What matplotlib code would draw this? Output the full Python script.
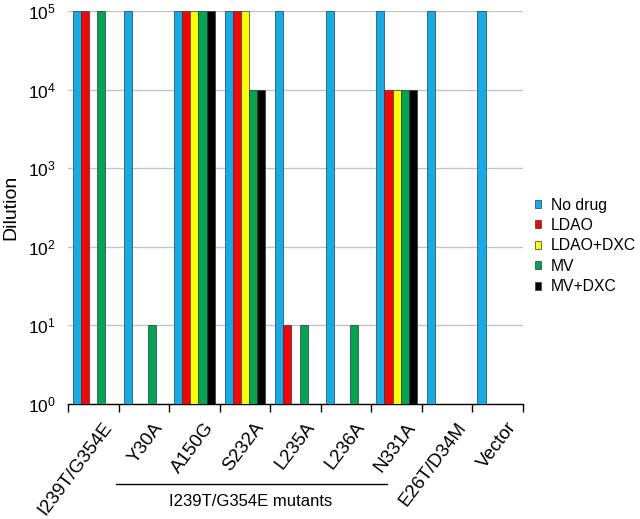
import matplotlib
matplotlib.use("Agg")
import matplotlib.pyplot as plt
import matplotlib.transforms as mtransforms
from matplotlib.patches import Patch
import numpy as np

plt.rcParams['font.family'] = ['Liberation Sans', 'DejaVu Sans']
plt.rcParams['mathtext.fontset'] = 'custom'
plt.rcParams['mathtext.rm'] = 'Liberation Sans'

# data (nan = no growth / no bar)
strains = ['I239T/G354E', 'Y30A', 'A150G', 'S232A', 'L235A', 'L236A',
           'N331A', 'E26T/D34M', 'Vector']
series = ['No drug', 'LDAO', 'LDAO+DXC', 'MV', 'MV+DXC']
no_drug = [1e5, 1e5, 1e5, 1e5, 1e5, 1e5, 1e5, 1e5, 1e5]
ldao = [1e5, np.nan, 1e5, 1e5, 10, np.nan, 1e4, np.nan, np.nan]
ldao_dxc = [np.nan, np.nan, 1e5, 1e5, np.nan, np.nan, 1e4, np.nan, np.nan]
mv = [1e5, 10, 1e5, 1e4, 10, 10, 1e4, np.nan, np.nan]
mv_dxc = [np.nan, np.nan, 1e5, 1e4, np.nan, np.nan, 1e4, np.nan, np.nan]
values = [no_drug, ldao, ldao_dxc, mv, mv_dxc]
colors = ['#12ADE6', '#FF0000', '#FFFF00', '#00A550', '#000000']

fig = plt.figure(figsize=(6.4, 5.19), dpi=100)
ax = fig.add_axes([68/640, 1-404/519, (523-68)/640, (404-11)/519])

x = np.arange(len(strains))
w = 0.16
for i, (vals, c) in enumerate(zip(values, colors)):
    ax.bar(x - 0.4 + w*i, vals, width=w, align='edge',
           color=c, edgecolor='#2a3a4a', linewidth=0.5, zorder=3)

ax.set_yscale('log')
ax.set_ylim(1, 1e5)
ax.set_xlim(-0.5, len(strains) - 0.5)
ax.yaxis.grid(True, color='#c4c4c4', linewidth=1, zorder=0)
ax.minorticks_off()
ax.tick_params(axis='y', length=0, labelsize=12.5, pad=9)
ax.set_ylabel('Dilution', fontsize=14, labelpad=6)

ax.set_xticks(x)
ax.set_xticklabels(strains, rotation=53, ha='right', va='top',
                   rotation_mode='anchor', fontsize=13.5)
ax.tick_params(axis='x', which='major', length=0, pad=11)
shift = mtransforms.ScaledTranslation(9/100, 0, fig.dpi_scale_trans)
for lbl in ax.get_xticklabels():
    lbl.set_transform(lbl.get_transform() + shift)
ax.set_xticks(np.arange(len(strains) + 1) - 0.5, minor=True)
ax.tick_params(axis='x', which='minor', length=6, width=1, direction='out')

for s in ['left', 'top', 'right']:
    ax.spines[s].set_visible(False)
ax.spines['bottom'].set_linewidth(1)

# bracket for mutants
trans = ax.get_xaxis_transform()
ax.plot([0.45, 5.81], [-0.204, -0.204], color='black', linewidth=1,
        transform=trans, clip_on=False)
ax.text(3.12, -0.249, 'I239T/G354E mutants', transform=trans, ha='center',
        va='center', fontsize=12)

handles = [Patch(facecolor=c, edgecolor='#2a3a4a', linewidth=0.5) for c in colors]
fig.legend(handles, series, loc='center left', bbox_to_anchor=(535/640, 1-246/519),
           frameon=False, fontsize=11.3, handlelength=0.4, handleheight=0.4,
           handletextpad=0.6, labelspacing=0.35, borderpad=0, borderaxespad=0)

fig.savefig('out.png', dpi=100)
